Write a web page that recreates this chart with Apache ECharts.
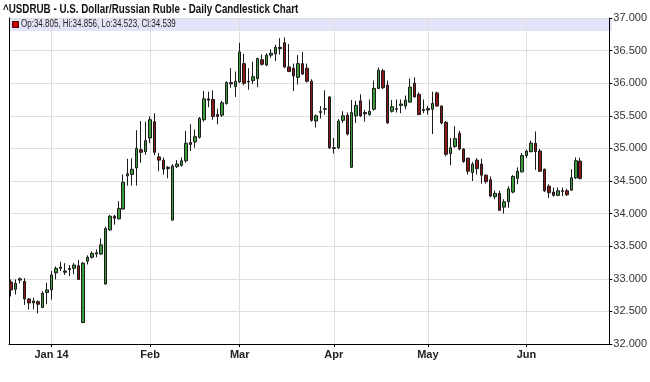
<!DOCTYPE html>
<html><head><meta charset="utf-8">
<script src="https://cdn.jsdelivr.net/npm/echarts@6/dist/echarts.min.js"></script>
<style>html,body{margin:0;padding:0;background:#fff}#c{width:650px;height:382px}</style>
</head><body><div id="c"></div>
<script>
const chartTitle = '^USDRUB - U.S. Dollar/Russian Ruble - Daily Candlestick Chart';
const opens = [32.95,32.84,32.98,32.96,32.69,32.63,32.65,32.56,32.79,32.83,
33.09,33.16,33.12,33.14,33.16,33.20,32.33,33.27,33.33,33.38,
33.38,32.92,33.75,33.96,33.92,34.07,34.58,34.60,34.70,34.98,
34.95,35.16,35.41,34.87,34.82,34.71,33.90,34.72,34.74,34.81,
35.09,35.10,35.17,35.44,35.76,35.75,35.52,35.51,35.69,36.01,
35.95,36.02,36.30,36.03,36.04,36.07,36.36,36.28,36.43,36.45,
36.55,36.62,36.25,36.23,36.09,36.30,36.23,36.03,35.42,35.55,
35.60,35.79,35.01,35.01,35.43,35.51,34.71,35.50,35.73,35.55,
35.52,35.60,35.92,36.19,35.97,35.57,35.60,35.66,35.65,35.71,
36.00,35.83,35.60,35.61,35.60,35.85,35.65,35.40,34.92,35.03,
35.23,34.99,34.85,34.63,34.82,34.76,34.59,34.52,34.26,34.31,
34.10,34.18,34.33,34.54,34.64,34.89,34.95,35.08,34.96,34.68,
34.42,34.33,34.28,34.35,34.35,34.36,34.55,34.805];
const closes = [32.83,32.93,33.00,32.69,32.63,32.66,32.61,32.78,32.83,33.06,
33.16,33.18,33.10,33.16,33.21,32.99,33.24,33.33,33.39,33.40,
33.52,33.77,33.96,33.93,34.08,34.48,34.61,34.68,35.00,34.94,
35.12,35.44,34.94,34.82,34.68,34.69,34.73,34.76,34.81,35.08,
35.06,35.18,35.46,35.76,35.74,35.49,35.49,35.70,36.01,35.99,
36.03,36.48,36.00,36.02,36.10,36.38,36.29,36.43,36.46,36.55,
36.53,36.25,36.18,36.11,36.30,36.14,36.03,35.43,35.50,35.57,
35.61,35.01,35.00,35.42,35.50,35.22,35.55,35.66,35.50,35.53,
35.57,35.92,36.20,35.93,35.39,35.64,35.61,35.68,35.74,35.94,
35.79,35.52,35.58,35.59,35.69,35.65,35.39,34.91,35.01,35.15,
34.99,34.80,34.65,34.76,34.69,34.59,34.49,34.27,34.31,34.05,
34.18,34.38,34.57,34.65,34.89,34.96,35.08,34.95,34.65,34.35,
34.32,34.28,34.35,34.34,34.29,34.55,34.81,34.539];
const lows = [32.73,32.76,32.93,32.60,32.53,32.53,32.47,32.55,32.61,32.68,
32.99,33.12,33.06,33.04,33.07,32.99,32.32,33.22,33.31,33.33,
33.37,32.91,33.74,33.83,33.91,34.06,34.43,34.43,34.43,34.78,
34.90,35.08,34.90,34.65,34.60,34.54,33.89,34.70,34.72,34.78,
34.96,35.01,35.15,35.41,35.63,35.44,35.37,35.48,35.67,35.93,
35.79,36.00,35.97,35.90,35.99,35.94,36.27,36.26,36.39,36.34,
36.44,36.23,36.17,35.88,35.98,36.13,36.01,35.41,35.32,35.46,
35.52,34.99,34.92,34.99,35.39,35.20,34.70,35.39,35.48,35.41,
35.50,35.58,35.91,35.91,35.38,35.55,35.55,35.54,35.60,35.70,
35.78,35.51,35.54,35.52,35.22,35.64,35.37,34.88,34.74,35.01,
34.97,34.78,34.60,34.50,34.60,34.46,34.46,34.25,34.22,34.04,
34.00,34.09,34.31,34.45,34.63,34.85,34.94,34.67,34.64,34.33,
34.24,34.26,34.27,34.27,34.27,34.35,34.53,34.523];
const highs = [32.99,32.99,33.02,33.01,32.70,32.71,32.67,32.81,32.94,33.12,
33.19,33.26,33.24,33.21,33.24,33.29,33.26,33.36,33.42,33.45,
33.62,33.80,33.98,33.98,34.19,34.60,34.84,34.85,35.28,35.42,
35.41,35.49,35.54,34.93,34.86,34.73,34.76,34.82,34.86,35.27,
35.37,35.29,35.48,35.88,35.87,35.89,35.61,35.73,36.03,36.23,
36.18,36.62,36.45,36.23,36.33,36.39,36.44,36.46,36.52,36.59,
36.69,36.70,36.60,36.30,36.43,36.48,36.30,36.06,35.52,35.65,
35.89,35.80,35.16,35.45,35.57,35.55,35.74,35.73,35.83,35.59,
35.75,36.04,36.24,36.22,36.04,35.74,35.75,35.75,35.81,36.07,
36.09,35.86,35.75,35.65,35.87,35.87,35.66,35.42,35.16,35.34,
35.27,35.00,34.86,34.79,34.85,34.84,34.60,34.57,34.35,34.35,
34.22,34.42,34.59,34.71,34.93,34.98,35.12,35.26,34.99,34.69,
34.45,34.40,34.40,34.40,34.38,34.68,34.86,34.856];
// x-axis slots (trading days incl. empty right margin) and month tick labels
const slotCount = 134;
const monthTicks = {9:'Jan 14', 31:'Feb', 51:'Mar', 72:'Apr', 93:'May', 115:'Jun'};
const yMin = 32, yMax = 37, yStep = 0.5;

const categories = Array.from({length: slotCount}, (_, i) => String(i));
const ohlc = opens.map((o, i) => [o, closes[i], lows[i], highs[i]]);
const last = opens.length - 1;
const legendText = 'Op:' + opens[last].toFixed(3) + ', Hi:' + highs[last].toFixed(3) +
  ', Lo:' + lows[last].toFixed(3) + ', Cl:' + closes[last].toFixed(3);
const isMonth = (i) => monthTicks[i] !== undefined;
const FONT = '"Liberation Sans", Arial, sans-serif';

const chart = echarts.init(document.getElementById('c'), null, {renderer: 'canvas'});
chart.setOption({
  animation: false,
  backgroundColor: '#fff',
  grid: {left: 9, right: 38, top: 18, bottom: 38, containLabel: false},
  xAxis: {
    type: 'category', data: categories, boundaryGap: true,
    axisLine: {show: true, lineStyle: {color: '#000', width: 1}},
    axisTick: {show: true, alignWithLabel: true, interval: (i) => isMonth(i), length: 3, lineStyle: {color: '#000'}},
    axisLabel: {interval: (i) => isMonth(i), formatter: (v, i) => monthTicks[i] || '',
      fontFamily: FONT, fontSize: 11, fontWeight: 'bold', color: '#222', margin: 5},
    splitLine: {show: true, alignWithLabel: true, interval: (i) => isMonth(i), lineStyle: {color: '#dedede', width: 1}}
  },
  yAxis: [{
    type: 'value', position: 'right', min: yMin, max: yMax, interval: yStep,
    axisLine: {show: true, lineStyle: {color: '#000'}},
    axisTick: {show: true, length: 3, lineStyle: {color: '#000'}},
    axisLabel: {formatter: (v) => v.toFixed(3), fontFamily: FONT, fontSize: 11, color: '#333', margin: 4},
    splitLine: {show: true, lineStyle: {color: '#dedede', width: 1}}
  }, {
    type: 'value', position: 'left', min: yMin, max: yMax, interval: yStep,
    axisLine: {show: true, lineStyle: {color: '#000'}},
    axisTick: {show: false}, axisLabel: {show: false}, splitLine: {show: false}
  }],
  graphic: [
    {type: 'text', x: 3, y: 3, scaleX: 0.785, style: {text: chartTitle, font: 'bold 12.5px ' + FONT, fill: '#111'}, z: 10},
    {type: 'rect', left: 10, top: 18, shape: {width: 602, height: 13}, style: {fill: '#e4e4f8'}, z: 0},
    {type: 'rect', left: 12, top: 21, shape: {width: 6, height: 6}, style: {fill: '#cc0000', stroke: '#400', lineWidth: 1}, z: 10},
    {type: 'text', x: 21, y: 19, scaleX: 0.8, style: {text: legendText, font: '10px ' + FONT, fill: '#222'}, z: 10}
  ],
  series: [{
    type: 'candlestick', data: ohlc, barWidth: 3,
    itemStyle: {color: '#3c9a3c', color0: '#8a1a1a', borderColor: '#1a1a1a', borderColor0: '#1a1a1a', borderWidth: 1},
    markLine: {
      silent: true, symbol: 'none',
      lineStyle: {opacity: 0},
      label: {show: true, position: 'end', distance: 2, formatter: () => closes[last].toFixed(3),
        backgroundColor: '#000', color: '#fff', padding: [2, 2, 1, 2], fontFamily: FONT, fontSize: 11},
      data: [{yAxis: closes[last]}]
    }
  }]
});
</script></body></html>
